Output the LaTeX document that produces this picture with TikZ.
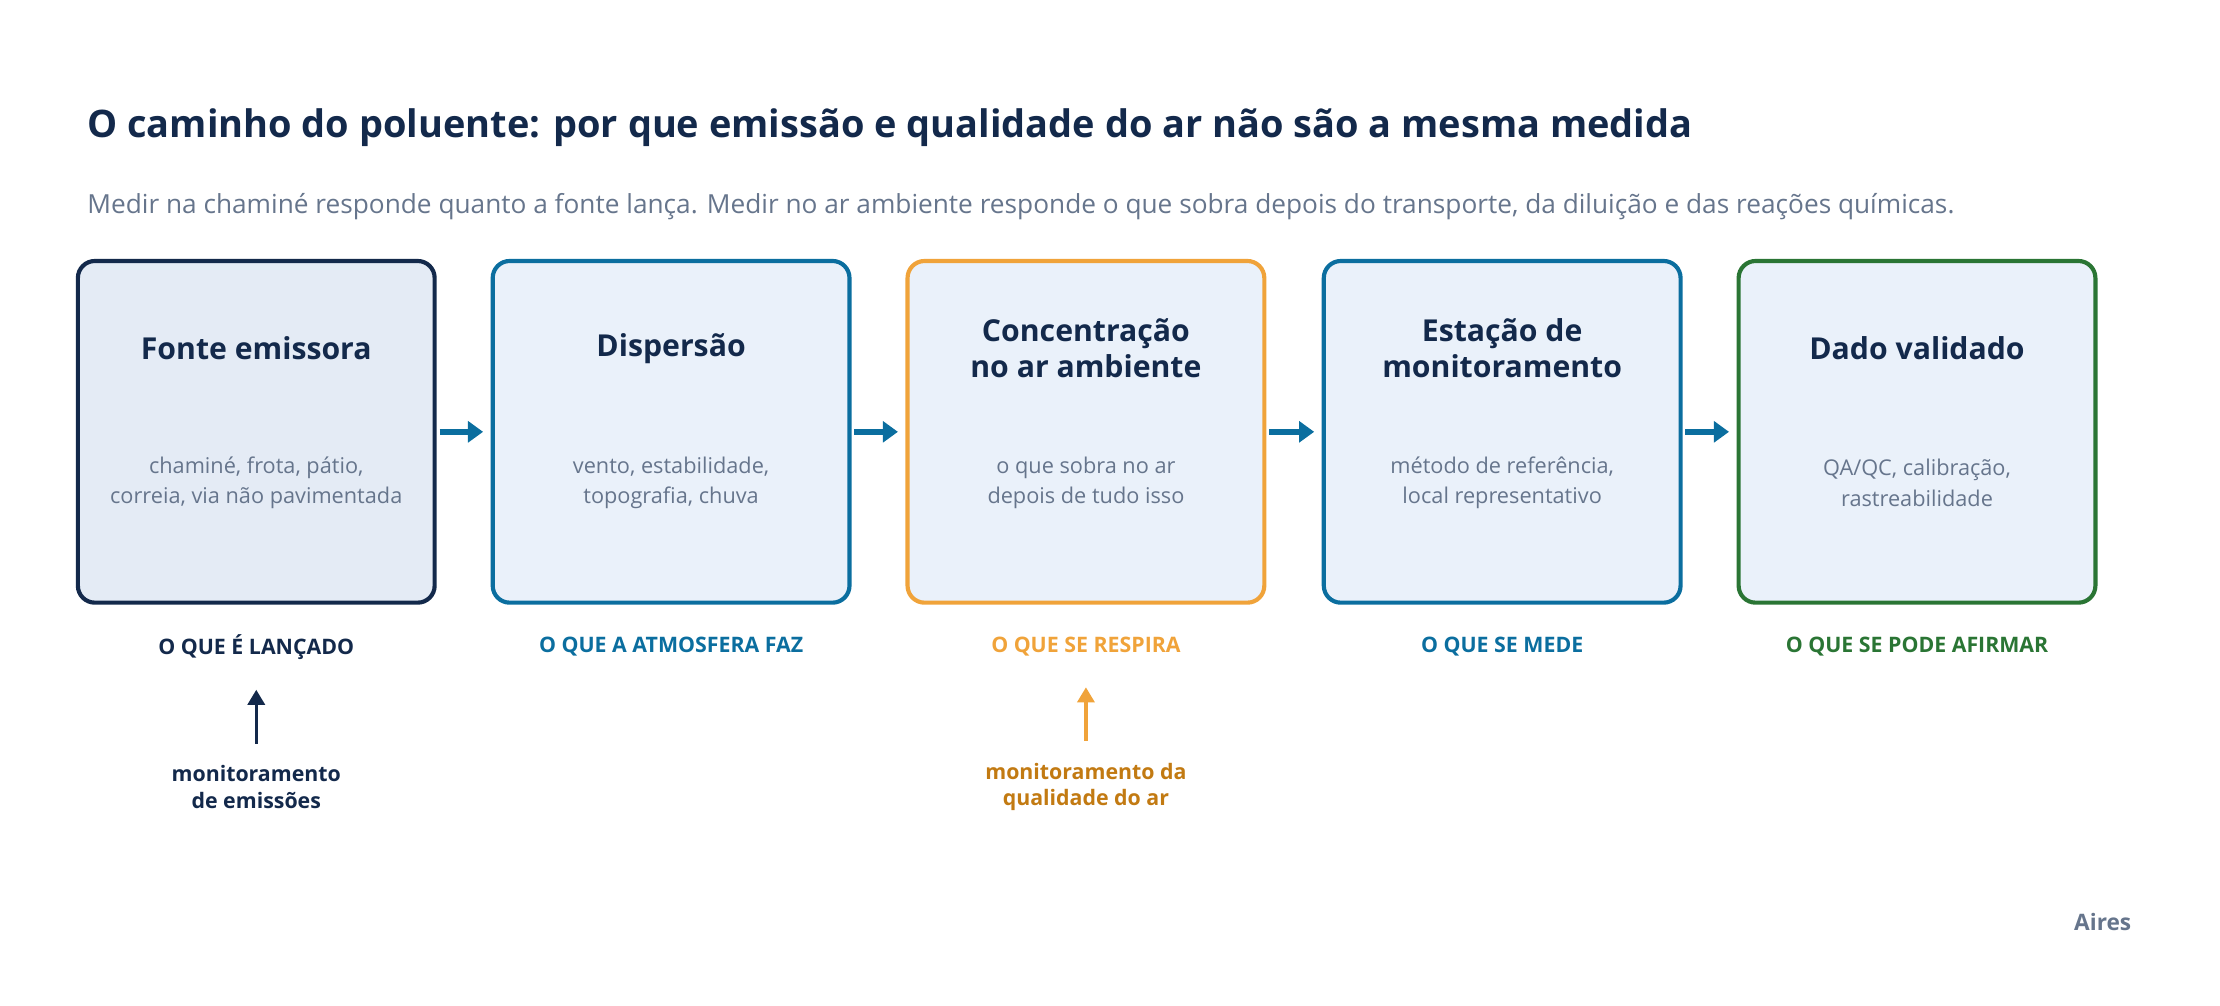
\documentclass[tikz,border=0pt]{standalone}
\usepackage{fontspec}
\setmainfont{Open Sans}
\usetikzlibrary{positioning,arrows.meta}
\definecolor{navy}{HTML}{13294B}
\definecolor{azul}{HTML}{0B6E9F}
\definecolor{laranja}{HTML}{F0A33A}
\definecolor{laranjaesc}{HTML}{C27A12}
\definecolor{verde}{HTML}{2A7534}
\definecolor{cinza}{HTML}{66758C}
\definecolor{fundo}{HTML}{EAF1FA}
\definecolor{fundoA}{HTML}{E4EBF5}
\tikzset{
 etapa/.style = {draw=#1, line width=2.2pt, rounded corners=9pt, minimum width=189pt, minimum height=181pt, fill=fundo},
 titulo/.style = {font=\fontsize{16}{19}\selectfont\bfseries, text=navy, align=center},
 corpo/.style = {font=\fontsize{11.5}{16}\selectfont, text=cinza, align=center},
 rotulo/.style = {font=\fontsize{11.3}{14}\selectfont\bfseries, text=#1},
 seta/.style = {-{Triangle[length=8pt,width=11pt]}, line width=3pt, draw=azul},
 sobe/.style = {-{Triangle[length=8pt,width=9pt]}, line width=1.8pt}
}
\begin{document}
\begin{tikzpicture}[x = 0.75pt, y = -0.75pt]
\useasboundingbox (0,0) rectangle (1568,710);
\node[anchor=west, font=\fontsize{20.1}{23}\selectfont\bfseries, text=navy] at (57,90) {O caminho do poluente: por que emissão e qualidade do ar não são a mesma medida};
\node[anchor=west, font=\fontsize{13.9}{16}\selectfont, text=cinza] at (57,146) {Medir na chaminé responde quanto a fonte lança. Medir no ar ambiente responde o que sobra depois do transporte, da diluição e das reações químicas.};

\node[etapa=navy, fill=fundoA] (B1) at (181,305) {};
\node[etapa=azul] (B2) at (474,305) {};
\node[etapa=laranja] (B3) at (767,305) {};
\node[etapa=azul] (B4) at (1061,305) {};
\node[etapa=verde] (B5) at (1354,305) {};

\node[titulo] at (181,246) {Fonte emissora};
\node[titulo] at (474,246) {Dispersão};
\node[titulo] at (767,246) {Concentração\\no ar ambiente};
\node[titulo] at (1061,246) {Estação de\\monitoramento};
\node[titulo] at (1354,246) {Dado validado};

\node[corpo] at (181,341) {chaminé, frota, pátio,\\correia, via não pavimentada};
\node[corpo] at (474,341) {vento, estabilidade,\\topografia, chuva};
\node[corpo] at (767,341) {o que sobra no ar\\depois de tudo isso};
\node[corpo] at (1061,341) {método de referência,\\local representativo};
\node[corpo] at (1354,341) {QA/QC, calibração,\\rastreabilidade};

\draw[seta] (B1.east) ++(2,0) -- ([xshift=-4pt]B2.west);
\draw[seta] (B2.east) ++(2,0) -- ([xshift=-4pt]B3.west);
\draw[seta] (B3.east) ++(2,0) -- ([xshift=-4pt]B4.west);
\draw[seta] (B4.east) ++(2,0) -- ([xshift=-4pt]B5.west);

\node[rotulo=navy] (L1) at (181,457) {O QUE É LANÇADO};
\node[rotulo=azul] at (474,457) {O QUE A ATMOSFERA FAZ};
\node[rotulo=laranja] (L3) at (767,457) {O QUE SE RESPIRA};
\node[rotulo=azul] at (1061,457) {O QUE SE MEDE};
\node[rotulo=verde] at (1354,457) {O QUE SE PODE AFIRMAR};

\node[rotulo=navy, align=center] (M1) at (181,556) {monitoramento\\de emissões};
\node[rotulo=laranjaesc, align=center] (M3) at (767,556) {monitoramento da\\qualidade do ar};
\draw[sobe, navy] (M1.north) ++(0,-11) -- ++(0,-38);
\draw[sobe, laranja] (M3.north) ++(0,-11) -- ++(0,-38);

\node[anchor=east, font=\fontsize{12}{14}\selectfont\bfseries, text=cinza] (AI) at (1510,651) {Aires};
\end{tikzpicture}
\end{document}
